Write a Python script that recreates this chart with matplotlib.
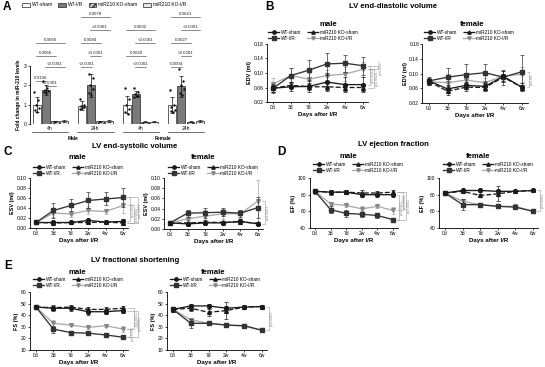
import matplotlib
matplotlib.use("Agg")
import matplotlib.pyplot as plt
from matplotlib.patches import Patch
from matplotlib.lines import Line2D
import numpy as np

plt.rcParams['font.family'] = ['Liberation Sans', 'DejaVu Sans']

# ---------------- data ----------------
series_names = ["WT-sham", "WT-I/R", "miR210 KO-sham", "miR210 KO-I/R"]
days = ["0d", "3d", "7d", "2w", "4w", "6w"]

# Panel A: fold change in miR-210 (groups: Male 4h, Male 24h, Female 4h, Female 24h)
a_groups = ["4h", "24h", "4h", "24h"]
a_sex = ["Male", "Female"]
a_wt_sham = [1.0, 0.95, 1.0, 1.0]
a_wt_ir = [1.75, 2.0, 1.55, 1.95]
a_ko_sham = [0.15, 0.15, 0.12, 0.12]
a_ko_ir = [0.15, 0.15, 0.12, 0.15]
a_wt_sham_sd = [0.4, 0.22, 0.45, 0.42]
a_wt_ir_sd = [0.25, 0.6, 0.15, 0.55]
a_ko_sham_sd = [0.03, 0.03, 0.03, 0.03]
a_ko_ir_sd = [0.04, 0.04, 0.03, 0.04]
a_wt_sham_pts = [[1.65, 1.25, 1.0, 0.85, 0.75, 0.6],
                 [1.3, 1.0, 0.95, 0.9, 0.8, 0.85],
                 [1.85, 1.3, 1.0, 0.8, 0.6, 0.5],
                 [1.75, 1.0, 0.9, 0.75, 0.65, 0.6]]
a_wt_ir_pts = [[2.2, 1.85, 1.75, 1.7, 1.65, 1.6],
               [2.6, 2.4, 2.0, 1.8, 1.6, 1.5],
               [1.85, 1.65, 1.55, 1.45, 1.4, 1.45],
               [2.85, 2.2, 2.0, 1.8, 1.6, 1.5]]
# significance: (label, bar a, bar b, row)
a_sig = [("0.0196", 0, 1, 6.0), ("<0.0001", 1, 2, 6.4), ("<0.0001", 1, 3, 5),
         ("0.0066", 0, 2, 4), ("0.0066", 0, 3, 3),
         ("<0.0001", 5, 6, 5), ("<0.0001", 6, 7, 4), ("0.0084", 5, 7, 3),
         ("<0.0001", 6, 8, 2), ("0.0078", 5, 8, 1),
         ("<0.0001", 11, 12, 5), ("0.0020", 10, 12, 4), ("<0.0001", 11, 13, 3),
         ("0.0032", 10, 13, 2),
         ("0.0004", 15, 16, 5), ("<0.0001", 16, 17, 4), ("0.0027", 15, 17, 3),
         ("<0.0001", 16, 18, 2), ("0.0041", 15, 18, 1)]

# Panel B: EDV (ml)
edv_male = [[0.058, 0.062, 0.063, 0.075, 0.068, 0.068],
            [0.058, 0.093, 0.108, 0.125, 0.127, 0.120],
            [0.058, 0.066, 0.062, 0.062, 0.060, 0.060],
            [0.070, 0.093, 0.083, 0.093, 0.097, 0.110]]
edv_male_sd = [[0.010, 0.012, 0.015, 0.025, 0.020, 0.020],
               [0.012, 0.020, 0.027, 0.030, 0.023, 0.025],
               [0.010, 0.008, 0.010, 0.010, 0.010, 0.010],
               [0.015, 0.020, 0.018, 0.015, 0.020, 0.020]]
edv_female = [[0.080, 0.058, 0.068, 0.065, 0.092, 0.063],
              [0.080, 0.090, 0.097, 0.102, 0.090, 0.105],
              [0.078, 0.052, 0.063, 0.062, 0.090, 0.062],
              [0.078, 0.075, 0.082, 0.075, 0.093, 0.098]]
edv_female_sd = [[0.008, 0.010, 0.010, 0.010, 0.015, 0.010],
                 [0.010, 0.025, 0.030, 0.025, 0.020, 0.045],
                 [0.008, 0.010, 0.010, 0.010, 0.010, 0.008],
                 [0.008, 0.025, 0.015, 0.012, 0.015, 0.020]]

# Panel C: ESV (ml)
esv_male = [[0.011, 0.011, 0.011, 0.015, 0.012, 0.013],
            [0.011, 0.035, 0.045, 0.055, 0.058, 0.061],
            [0.011, 0.010, 0.011, 0.011, 0.012, 0.010],
            [0.011, 0.030, 0.028, 0.035, 0.033, 0.045]]
esv_male_sd = [[0.003, 0.002, 0.002, 0.003, 0.003, 0.004],
               [0.004, 0.015, 0.012, 0.016, 0.013, 0.019],
               [0.002, 0.002, 0.002, 0.002, 0.002, 0.002],
               [0.003, 0.008, 0.006, 0.008, 0.005, 0.015]]
esv_female = [[0.012, 0.010, 0.012, 0.012, 0.015, 0.010],
              [0.012, 0.031, 0.032, 0.033, 0.031, 0.042],
              [0.011, 0.012, 0.013, 0.013, 0.014, 0.011],
              [0.012, 0.020, 0.025, 0.030, 0.030, 0.055]]
esv_female_sd = [[0.004, 0.004, 0.004, 0.004, 0.004, 0.003],
                 [0.004, 0.007, 0.010, 0.008, 0.007, 0.020],
                 [0.003, 0.005, 0.004, 0.003, 0.004, 0.003],
                 [0.004, 0.012, 0.012, 0.010, 0.008, 0.041]]

# Panel D: EF (%)
ef_male = [[84, 83, 83, 80, 80, 80],
           [84, 62, 57.5, 56.5, 55, 50],
           [84, 83, 83, 82, 82, 83],
           [84, 69, 67, 63, 66, 61]]
ef_male_sd = [[2, 2, 2, 2.5, 2, 2], [3, 4, 4, 3, 2.5, 2],
              [2, 3, 2, 3, 2, 2], [2, 2, 1.5, 3, 2, 4]]
ef_female = [[82, 85, 85, 84, 84, 85],
             [82, 68, 68, 66, 65, 60],
             [82, 84, 79, 81, 84, 85],
             [82, 72, 68, 66, 66, 60]]
ef_female_sd = [[2, 1.5, 2, 2, 1, 1], [2, 7, 2, 2, 2, 2],
                [2, 2, 2, 9, 1, 1], [2, 3, 2, 2, 2, 2]]

# Panel E: FS (%)
fs_male = [[47, 46, 46, 43, 43, 44],
           [47, 28, 25, 24.5, 23, 21],
           [47, 46.5, 47, 45, 45, 46],
           [47, 33, 31.5, 29.5, 31, 28]]
fs_male_sd = [[2, 2, 2, 2.5, 2, 2.5], [2, 3, 1.5, 1, 1, 1],
              [2, 2, 2, 2, 2, 2], [2, 3, 1, 1.5, 1, 2.5]]
fs_female = [[45, 48, 48, 46, 47, 47.5],
             [45, 33, 33, 31.5, 31, 27],
             [45, 46, 42.5, 44, 47, 47.5],
             [45, 36, 33, 31.5, 30.5, 27]]
fs_female_sd = [[2, 1.5, 2, 2, 1.5, 1], [2, 4, 1, 1, 1, 1.5],
                [2, 2, 3, 7, 1, 1], [2, 2, 1, 1, 1, 1]]

# p-value labels at 6w: (label, series a, series b)
p_edv_male = [("p<0.0001", 1, 0), ("p=0.0024", 3, 2), ("p=0.0007", 1, 3)]
p_edv_female = [("p=0.08", 1, 0)]
p_esv_male = [("p<0.0001", 1, 0), ("p=0.0081", 3, 2), ("p<0.0001", 1, 2)]
p_esv_female = [("p<0.0001", 3, 0)]
p_ef_male = [("p<0.0001", 0, 1), ("p<0.0001", 2, 3), ("p<0.0001", 2, 1)]
p_ef_female = [("p<0.0001", 0, 1)]
p_fs_male = [("p=0.0156", 3, 1), ("p<0.0001", 2, 3), ("p<0.0001", 0, 1)]
p_fs_female = [("p<0.0001", 0, 1)]

# ---------------- styling ----------------
W, H = 545, 367
fig = plt.figure(figsize=(W / 100, H / 100), dpi=100)

styles = [dict(color="#1a1a1a", ls="-", marker="o", mfc="#1a1a1a"),
          dict(color="#333333", ls="-", marker="s", mfc="#333333"),
          dict(color="#1a1a1a", ls="--", marker="^", mfc="#1a1a1a"),
          dict(color="#aaaaaa", ls="-", marker="v", mfc="#888888")]

TICK_FS = 3.6


def fx(x):
    return x / W


def fy(y):
    return 1 - y / H


def px_axes(left, top, right, bottom):
    return fig.add_axes([left / W, 1 - bottom / H, (right - left) / W, (bottom - top) / H])


def style_axes(ax):
    for s in ["top", "right"]:
        ax.spines[s].set_visible(False)
    for s in ["left", "bottom"]:
        ax.spines[s].set_linewidth(0.6)
    ax.tick_params(length=1.5, width=0.5, pad=1, labelsize=TICK_FS)


def line_panel(x0d, x6w, ytop, ybot, means, sds, yticks, ylabel, sub, sub_xy, leg_xy, pvals, yfmt):
    s = (x6w - x0d) / 5.0
    ax = px_axes(x0d - 0.35 * s, ytop, x6w + 0.3 * s, ybot)
    style_axes(ax)
    x = np.arange(len(days))
    handles = []
    for i in range(4):
        st = styles[i]
        ax.errorbar(x, means[i], yerr=sds[i], color=st["color"], ls=st["ls"],
                    lw=0.95, marker=st["marker"], ms=2.7, mfc=st["mfc"], mec=st["mfc"],
                    elinewidth=0.5, capsize=1.2, capthick=0.5, zorder=3 - 0.1 * i,
                    clip_on=False)
        handles.append(Line2D([0], [0], color=st["color"], ls=st["ls"], lw=0.95,
                              marker=st["marker"], ms=2.4, mfc=st["mfc"], mec=st["mfc"]))
    ax.set_xlim(-0.35, 5.3)
    ax.set_ylim(yticks[0], yticks[-1])
    ax.set_yticks(yticks)
    ax.set_yticklabels([yfmt.format(t) for t in yticks])
    ax.set_xticks(x)
    ax.set_xticklabels(days)
    ax.set_xlabel("Days after I/R", fontsize=4.4, fontweight="bold", labelpad=1)
    ax.set_ylabel(ylabel, fontsize=4.0, fontweight="bold", labelpad=1)
    fig.text(fx(sub_xy[0]), fy(sub_xy[1]), sub, fontsize=5.6, fontweight="bold",
             ha="center", va="center")
    fig.legend(handles, series_names, loc="upper left",
               bbox_to_anchor=(fx(leg_xy[0]), fy(leg_xy[1])), ncol=2, frameon=False,
               fontsize=3.4, handlelength=2.4, handletextpad=0.4, columnspacing=1.2,
               labelspacing=0.15, borderpad=0, borderaxespad=0)
    # p-value brackets to the right of 6w
    for k, (lab, a, b) in enumerate(pvals):
        xb = 5.4 + 0.22 * k
        ya, yb = means[a][-1], means[b][-1]
        ax.plot([5.25, xb, xb, 5.25], [ya, ya, yb, yb], color="#9a9a9a", lw=0.4,
                clip_on=False)
        ax.text(xb + 0.03, (ya + yb) / 2, lab, rotation=90, fontsize=2.6,
                color="#8a8a8a", ha="left", va="center", clip_on=False)
    return ax


# ---------------- Panel A ----------------
fig.text(fx(3), fy(7), "A", fontsize=8.5, fontweight="bold", ha="left", va="center")
axA = px_axes(30, 66, 205, 124)
style_axes(axA)
axA.spines["bottom"].set_visible(False)
bar_cols = ["white", "#7a7a7a", "#c8c8c8", "#e6e6e6"]
bar_hatch = [None, None, "//////", None]
a_vals = [a_wt_sham, a_wt_ir, a_ko_sham, a_ko_ir]
a_sds = [a_wt_sham_sd, a_wt_ir_sd, a_ko_sham_sd, a_ko_ir_sd]
for g in range(4):
    for i in range(4):
        xpos = g * 5 + i
        axA.bar(xpos, a_vals[i][g], width=0.88, color=bar_cols[i], edgecolor="#222222",
                lw=0.5, hatch=bar_hatch[i], zorder=2)
        axA.errorbar(xpos, a_vals[i][g], yerr=a_sds[i][g], color="#111111",
                     elinewidth=0.5, capsize=1.2, capthick=0.5, zorder=3)
    pts0 = a_wt_sham_pts[g]
    pts1 = a_wt_ir_pts[g]
    jit = np.array([-0.25, 0.2, -0.1, 0.25, -0.2, 0.05])
    axA.scatter(g * 5 + 0 + jit, pts0, s=3, color="#111111", zorder=4, lw=0)
    axA.scatter(g * 5 + 1 + jit, pts1, s=3, color="#111111", zorder=4, lw=0)
axA.axhline(0, color="#222222", lw=0.6, xmin=0, xmax=1)
axA.set_xlim(-0.72, 18.6)
axA.set_ylim(0, 3)
axA.set_yticks([0, 1, 2, 3])
axA.set_xticks([])
axA.set_ylabel("Fold change in miR-210 levels", fontsize=3.5, fontweight="bold", labelpad=2)
row_px = {1: 13, 2: 26, 3: 39, 4: 52, 5: 63, 6.0: 77, 6.4: 82}
for lab, a, b, row in a_sig:
    ypx = row_px[row] + 4
    yd = (124 - ypx) * 3 / 58.0
    xa, xb = min(a, b), max(a, b)
    axA.plot([xa - 0.1, xb + 0.1], [yd, yd], color="#333333", lw=0.4, clip_on=False)
    axA.text((xa + xb) / 2, yd + 0.05, lab, fontsize=3.2, ha="center", va="bottom",
             color="#222222", clip_on=False)
# group labels
for g in range(4):
    c = g * 5 + 1.5
    axA.text(c, -0.12, a_groups[g], fontsize=3.6, ha="center", va="top", clip_on=False)
    axA.plot([g * 5 - 0.5, g * 5 + 3.5], [-0.42, -0.42], color="#333333", lw=0.5,
             clip_on=False)
for k, sx in enumerate(a_sex):
    axA.text(k * 10 + 4, -0.6, sx, fontsize=3.4, ha="center", va="top",
             fontweight="bold", clip_on=False)
legA = [Patch(facecolor=bar_cols[i], edgecolor="#222222", hatch=bar_hatch[i], lw=0.5)
        for i in range(4)]
fig.legend(legA, series_names, loc="center", bbox_to_anchor=(fx(104), fy(5)), ncol=4,
           frameon=False, fontsize=3.5, handlelength=1.6, handleheight=0.8,
           handletextpad=0.4, columnspacing=1.1, borderpad=0)

# ---------------- Panel B ----------------
fig.text(fx(265), fy(7), "B", fontsize=8.5, fontweight="bold", ha="left", va="center")
fig.text(fx(393), fy(7), "LV end-diastolic volume", fontsize=5.6, fontweight="bold",
         ha="center", va="center")
yB = [0.02, 0.06, 0.10, 0.14, 0.18]
line_panel(273, 363, 44, 102, edv_male, edv_male_sd, yB, "EDV (ml)", "male", (328, 25),
           (268, 30), p_edv_male, "{:.2f}")
line_panel(429, 522, 44, 103, edv_female, edv_female_sd, yB, "EDV (ml)", "female",
           (472, 25), (424, 30), p_edv_female, "{:.2f}")

# ---------------- Panel C ----------------
fig.text(fx(4), fy(152), "C", fontsize=8.5, fontweight="bold", ha="left", va="center")
fig.text(fx(135), fy(146), "LV end-systolic volume", fontsize=5.6, fontweight="bold",
         ha="center", va="center")
yC = [0.00, 0.02, 0.04, 0.06, 0.08, 0.10]
line_panel(36, 123, 178, 228, esv_male, esv_male_sd, yC, "ESV (ml)", "male", (77, 158),
           (33, 165), p_esv_male, "{:.2f}")
line_panel(170, 258, 178, 229, esv_female, esv_female_sd, yC, "ESV (ml)", "female",
           (203, 158), (168, 165), p_esv_female, "{:.2f}")

# ---------------- Panel D ----------------
fig.text(fx(277), fy(152), "D", fontsize=8.5, fontweight="bold", ha="left", va="center")
fig.text(fx(393), fy(145), "LV ejection fraction", fontsize=5.6, fontweight="bold",
         ha="center", va="center")
yD = [40, 60, 80, 100]
line_panel(315, 393, 178, 228, ef_male, ef_male_sd, yD, "EF (%)", "male", (348, 156),
           (313, 162), p_ef_male, "{:.0f}")
line_panel(445, 533, 178, 228, ef_female, ef_female_sd, yD, "EF (%)", "female",
           (478, 157), (443, 162), p_ef_female, "{:.0f}")

# ---------------- Panel E ----------------
fig.text(fx(4), fy(266), "E", fontsize=8.5, fontweight="bold", ha="left", va="center")
fig.text(fx(135), fy(261), "LV fractional shortening", fontsize=5.6, fontweight="bold",
         ha="center", va="center")
yE = [10, 20, 30, 40, 50, 60]
line_panel(36, 123, 292, 350, fs_male, fs_male_sd, yE, "FS (%)", "male", (77, 273),
           (33, 277), p_fs_male, "{:.0f}")
line_panel(173, 262, 292, 350, fs_female, fs_female_sd, yE, "FS (%)", "female",
           (213, 273), (170, 277), p_fs_female, "{:.0f}")

fig.savefig("out.png", dpi=100)
